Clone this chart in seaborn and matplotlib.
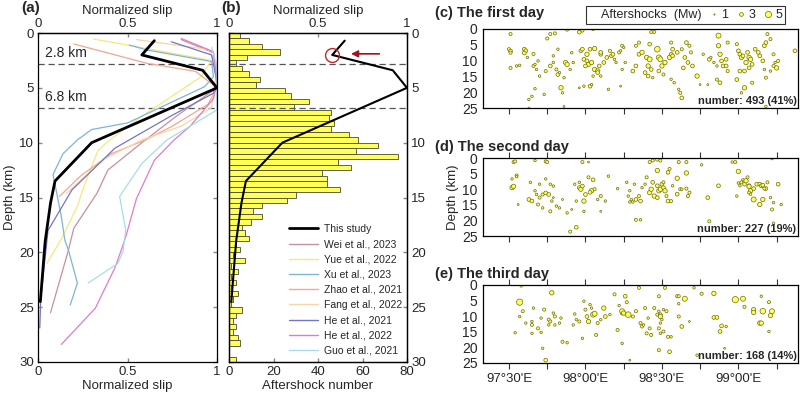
import numpy as np
import pandas as pd
import matplotlib
matplotlib.use("Agg")
import matplotlib.pyplot as plt
import seaborn as sns
from matplotlib.lines import Line2D

sns.set_theme(style="ticks", context="paper",
              rc={"axes.labelsize": 9.5, "xtick.labelsize": 9.5, "ytick.labelsize": 9.5,
                  "axes.linewidth": 0.9, "axes.edgecolor": "black"})
plt.rcParams["font.family"] = ["Liberation Sans", "DejaVu Sans"]
plt.rcParams["font.size"] = 9.5

# ---- panel (a): normalized slip profiles (slip, depth km)
this_slip = [0.65, 0.58, 0.92, 1.0, 0.30, 0.095, 0.07, 0.04, 0.013]
this_depth = [0.7, 2.0, 3.4, 5.0, 10.0, 13.5, 15.5, 19.0, 24.5]

wei_slip = [0.80, 0.98, 1.0, 0.78, 0.58, 0.39, 0.33, 0.20, 0.17, 0.07]
wei_depth = [0.6, 1.8, 5.0, 7.5, 10.0, 12.5, 14.6, 17.8, 19.8, 25.5]
yue_slip = [0.31, 0.50, 0.97, 0.91, 0.58, 0.40, 0.335, 0.25, 0.22, 0.13, 0.05]
yue_depth = [0.55, 1.1, 2.5, 4.0, 7.6, 9.75, 10.7, 14.3, 15.8, 18.8, 21.0]
xu_slip = [0.51, 0.61, 0.97, 0.98, 0.93, 0.50, 0.30, 0.22, 0.14, 0.084, 0.13, 0.15, 0.17, 0.22, 0.18]
xu_depth = [1.1, 1.55, 2.6, 4.0, 4.9, 8.2, 8.8, 9.75, 11.0, 12.9, 16.7, 18.9, 19.8, 22.8, 24.8]
zhao_slip = [0.20, 0.61, 0.88, 1.0, 0.95, 0.75, 0.60, 0.41, 0.24, 0.12]
zhao_depth = [1.0, 2.77, 3.5, 5.0, 6.5, 8.5, 9.75, 11.0, 13.0, 14.9]
fang_slip = [0.55, 0.95, 1.0, 0.97, 0.80, 0.58, 0.37, 0.16]
fang_depth = [0.6, 1.5, 3.0, 6.8, 8.5, 9.75, 11.5, 14.6]
he21_slip = [0.745, 0.97, 1.0, 0.98, 0.75, 0.51, 0.43, 0.19, 0.056, 0.015, 0.01]
he21_depth = [0.8, 2.0, 4.5, 5.5, 7.5, 9.75, 10.5, 14.3, 18.0, 24.3, 26.9]
he22_slip = [0.80, 0.98, 1.0, 0.98, 0.85, 0.76, 0.65, 0.55, 0.49, 0.465, 0.43, 0.32, 0.13]
he22_depth = [0.5, 1.7, 4.5, 6.0, 8.5, 9.75, 11.6, 15.1, 18.6, 19.8, 21.4, 25.1, 28.4]
guo_slip = [0.97, 1.0, 1.0, 1.0, 0.85, 0.72, 0.58, 0.456, 0.49, 0.475, 0.447, 0.28]
guo_depth = [1.3, 3.0, 5.0, 7.0, 8.5, 9.75, 11.9, 14.9, 18.0, 19.9, 21.0, 22.8]

ref_labels = ["Wei et al., 2023", "Yue et al., 2022", "Xu et al., 2023", "Zhao et al., 2021",
              "Fang et al., 2022", "He et al., 2021", "He et al., 2022", "Guo et al., 2021"]
ref_colors = ["#c98f9a", "#f3ea7c", "#80b3d6", "#f0a88e", "#f6d6a6", "#7474c6", "#e07cc8", "#a8dcea"]
ref_slips = [wei_slip, yue_slip, xu_slip, zhao_slip, fang_slip, he21_slip, he22_slip, guo_slip]
ref_depths = [wei_depth, yue_depth, xu_depth, zhao_depth, fang_depth, he21_depth, he22_depth, guo_depth]

# ---- panel (b): aftershock counts per 0.5 km depth bin (0-30 km)
bin_edges = [i * 0.5 for i in range(61)]
bin_counts = [5, 9, 15, 23, 8, 3, 6, 9, 14, 12,
              25, 28, 36, 29, 46, 45, 47, 46, 54, 58,
              67, 57, 76, 49, 55, 42, 44, 44, 50, 30,
              26, 15, 11, 15, 10, 6, 7, 9, 3, 5,
              2, 7, 1, 4, 1, 3, 1, 4, 2, 1,
              6, 3, 2, 3, 2, 4, 5, 0, 0, 3]

# ---- panels (c)-(e): aftershocks (lon, depth, Mw)
day1_lon = [97.51, 97.50, 97.51, 97.51, 97.51, 97.55, 97.57, 97.60, 97.61, 97.60, 97.62, 97.63, 97.65, 97.63,
            97.66, 97.67, 97.68, 97.69, 97.66, 97.70, 97.67, 97.73, 97.75, 97.77, 97.80, 97.77, 97.79, 97.81,
            97.82, 97.74, 97.83, 97.79, 97.82, 97.84, 97.85, 97.86, 97.87, 97.88, 97.90, 97.88, 97.91, 97.92,
            97.86, 97.96, 97.98, 98.05, 97.97, 97.98, 98.01, 97.99, 98.02, 98.04, 98.03, 98.06, 98.01, 98.00,
            98.03, 97.96, 97.99, 98.06, 98.08, 98.09, 98.10, 98.10, 98.14, 98.12, 98.05, 98.08, 98.04, 98.10,
            98.16, 98.17, 98.18, 98.22, 98.23, 98.24, 98.20, 98.24, 98.26, 98.25, 98.19, 98.15, 98.23, 98.31,
            98.33, 98.35, 98.37, 98.40, 98.42, 98.41, 98.43, 98.42, 98.43, 98.45, 98.35, 98.33, 98.41, 98.44,
            98.39, 98.47, 98.48, 98.49, 98.50, 98.52, 98.55, 98.56, 98.57, 98.60, 98.56, 98.57, 98.48, 98.51,
            98.56, 98.58, 98.62, 98.63, 98.61, 98.63, 98.66, 98.68, 98.69, 98.65, 98.67, 98.70, 98.64, 98.73,
            98.77, 98.80, 98.75, 98.81, 98.82, 98.84, 98.86, 98.87, 98.87, 98.88, 98.89, 98.90, 98.86, 98.88,
            98.93, 98.92, 98.93, 98.92, 98.99, 99.00, 99.01, 99.02, 99.03, 99.05, 99.06, 99.07, 99.08, 99.09,
            99.01, 99.04, 99.07, 99.02, 99.04, 98.99, 99.09, 99.11, 99.13, 99.14, 99.16, 99.17, 99.18, 99.19,
            99.21, 99.23, 99.25, 99.26, 99.23, 99.17, 99.18, 99.21, 99.24, 99.18, 99.37]
day1_dep = [1.6, 6.4, 7.0, 7.5, 12.3, 11.7, 11.5, 6.4, 6.9, 7.6, 9.0, 22.3, 21.3, 25.0,
            11.7, 11.2, 12.8, 10.1, 7.9, 14.9, 18.9, 20.7, 3.0, 1.6, 1.4, 11.7, 10.6, 12.8,
            14.4, 13.3, 13.8, 8.5, 6.4, 18.6, 20.2, 24.5, 10.6, 11.2, 12.8, 0.2, 7.5, 10.6,
            15.4, 1.0, 0.5, 0.0, 6.9, 6.4, 8.0, 9.6, 11.2, 10.6, 6.4, 6.2, 10.1, 11.7,
            18.1, 18.6, 18.1, 12.8, 13.3, 11.7, 8.0, 7.4, 9.0, 10.6, 14.9, 13.8, 17.6, 14.9,
            6.9, 8.5, 8.0, 7.4, 6.9, 5.3, 10.6, 12.8, 10.6, 5.8, 9.6, 19.1, 18.1, 13.3,
            11.7, 8.0, 7.4, 9.0, 9.6, 11.7, 12.8, 4.8, 1.0, 0.9, 4.3, 5.3, 14.9, 15.4,
            13.8, 6.4, 9.0, 9.6, 11.7, 10.6, 9.0, 8.0, 8.5, 7.4, 4.3, 6.4, 13.3, 14.4,
            15.9, 17.0, 20.2, 21.8, 19.1, 6.4, 4.3, 5.3, 7.4, 9.0, 10.6, 11.7, 12.3, 14.9,
            8.0, 17.6, 17.6, 9.6, 9.0, 10.6, 11.7, 2.1, 5.3, 8.0, 10.1, 11.7, 16.0, 17.0,
            13.3, 11.7, 4.3, 9.6, 4.8, 6.9, 8.0, 9.0, 8.5, 10.6, 7.4, 9.0, 9.6, 11.2,
            13.3, 13.3, 12.3, 20.2, 18.6, 16.0, 17.0, 6.4, 7.4, 8.5, 10.1, 5.3, 4.3, 1.6,
            3.2, 8.0, 12.3, 10.1, 11.7, 12.8, 15.4, 13.3, 10.6, 24.5, 6.9]
day1_mw = [2.5, 2.5, 3, 2.5, 2.5, 2, 2, 3, 3, 3, 2, 2, 2, 1.5,
           2.5, 2, 2, 2, 2.5, 2, 2, 2, 2.5, 2.5, 2.5, 3, 2, 2.5,
           3, 2.5, 2, 2, 2, 3.5, 2, 1.5, 3.5, 3.5, 2, 2.5, 2, 2,
           2, 3, 2.5, 2.5, 3, 3, 3.5, 3, 3.5, 3.5, 3, 3.5, 3, 3,
           3, 1.5, 2, 3.5, 3.5, 3, 3, 3, 3, 3, 2, 3, 2, 2,
           2.5, 3, 3, 2.5, 2, 2.5, 2, 2, 2, 2, 2, 2, 1.5, 3,
           3, 3, 3.5, 3.5, 4, 3.5, 3, 3, 2.5, 2.5, 2.5, 2.5, 3, 2,
           3, 4.5, 4, 4, 3.5, 3.5, 3.5, 3, 3, 3, 2.5, 3, 3, 2.5,
           2, 2, 2.5, 3, 2, 2.5, 3, 2.5, 2.5, 3, 3, 3, 3, 3.5,
           2, 1.5, 1.5, 3, 2, 2, 2, 4, 3.5, 3.5, 3, 3, 2.5, 3,
           2.5, 3, 2.5, 3, 2.5, 3, 3, 3.5, 3, 3.5, 3, 3.5, 3.5, 3,
           3, 3, 3, 2, 3.5, 3, 2.5, 3, 3, 3, 3, 3, 3, 2.5,
           2.5, 2.5, 3.5, 2.5, 2.5, 2, 2.5, 2, 2, 2, 3]

day2_lon = [97.53, 97.54, 97.52, 97.52, 97.53, 97.55, 97.55, 97.56, 97.64, 97.67, 97.67, 97.68, 97.63, 97.65,
            97.70, 97.74, 97.74, 97.75, 97.72, 97.74, 97.76, 97.77, 97.79, 97.78, 97.70, 97.69, 97.72, 97.77,
            97.81, 97.83, 97.79, 97.85, 97.88, 97.91, 97.90, 97.94, 97.93, 97.96, 97.98, 98.02, 97.96, 97.97,
            97.98, 97.99, 98.00, 97.94, 98.02, 97.99, 98.04, 98.03, 98.05, 98.06, 98.08, 98.10, 98.13, 98.10,
            98.15, 98.21, 98.27, 98.29, 98.32, 98.28, 98.30, 98.31, 98.33, 98.36, 98.35, 98.29, 98.33, 98.36,
            98.37, 98.39, 98.40, 98.42, 98.44, 98.47, 98.49, 98.42, 98.43, 98.44, 98.47, 98.48, 98.49, 98.45,
            98.47, 98.47, 98.50, 98.51, 98.52, 98.51, 98.54, 98.55, 98.53, 98.54, 98.56, 98.60, 98.60, 98.61,
            98.57, 98.62, 98.63, 98.66, 98.68, 98.67, 98.66, 98.66, 98.76, 98.80, 98.81, 98.87, 98.96, 98.98,
            99.00, 98.99, 99.00, 99.01, 99.02, 99.03, 99.04, 99.05, 99.06, 99.07, 99.08, 99.10, 99.10, 99.07,
            99.07, 99.12, 99.14, 99.15, 99.16, 99.18, 99.16, 99.14, 99.17, 99.21, 99.22, 99.23, 99.22, 99.26,
            99.28, 99.23, 99.08, 99.19]
day2_dep = [1.3, 1.1, 6.7, 9.5, 9.1, 5.6, 6.0, 14.9, 7.8, 0.8, 10.5, 11.7, 13.3, 13.8,
            8.4, 6.7, 1.1, 1.3, 11.7, 11.2, 11.7, 8.4, 9.0, 13.8, 12.7, 14.9, 16.0, 17.1,
            15.4, 16.0, 12.7, 13.3, 17.6, 16.5, 23.6, 22.2, 8.4, 7.8, 1.3, 1.3, 9.5, 10.0,
            9.0, 13.8, 11.7, 13.8, 6.2, 17.1, 10.5, 11.0, 7.0, 10.0, 13.3, 12.2, 13.8, 17.1,
            5.8, 9.8, 7.8, 10.5, 8.4, 12.2, 13.3, 14.1, 13.3, 13.8, 12.2, 14.1, 19.8, 19.8,
            9.5, 8.4, 6.2, 1.3, 0.8, 0.4, 0.8, 11.1, 10.0, 7.8, 8.9, 10.5, 10.0, 12.2,
            12.7, 4.0, 8.4, 9.5, 10.5, 7.8, 4.6, 3.5, 12.2, 13.8, 13.8, 11.6, 6.5, 1.3,
            8.9, 10.0, 10.0, 9.8, 11.1, 12.2, 4.8, 1.3, 2.2, 12.7, 20.3, 8.9, 1.3, 1.3,
            4.3, 12.2, 8.0, 8.9, 7.8, 7.0, 8.4, 7.3, 6.2, 8.9, 10.5, 9.8, 13.3, 9.1,
            11.1, 8.4, 8.4, 8.9, 8.7, 9.8, 13.3, 14.9, 9.8, 12.7, 16.5, 14.3, 0.2, 8.4,
            14.9, 20.9, 11.6, 7.8]
day2_mw = [2.5, 2.5, 2, 3.5, 3.5, 2.5, 2, 1.5, 2, 2, 2, 2, 3, 3,
           2, 2, 2.5, 2.5, 2.5, 3, 3, 2, 2, 2, 2.5, 2.5, 2, 2.5,
           2, 2, 1.5, 1.5, 2, 1.5, 2.5, 3, 2, 2, 2.5, 1.5, 3, 3.5,
           3, 3.5, 3, 2, 2.5, 2, 3.5, 3, 3, 2.5, 2, 2.5, 2, 1.5,
           2, 2, 2, 2, 2, 2, 2, 2, 3, 3, 2.5, 2, 2.5, 2,
           2, 2, 2.5, 2.5, 2.5, 3, 2.5, 3.5, 3.5, 3, 3, 3.5, 3.5, 3.5,
           3, 3.5, 3, 3, 3.5, 2.5, 3, 2.5, 2.5, 3, 2.5, 3, 3.5, 2.5,
           2, 2.5, 2, 2.5, 2.5, 2.5, 3.5, 2.5, 2, 3, 2.5, 3, 2, 2.5,
           3.5, 2, 2, 2, 2.5, 2, 3, 3.5, 2.5, 3, 3.5, 3, 4, 3.5,
           2.5, 3, 3, 3, 3, 3, 3.5, 3.5, 2.5, 2, 2.5, 2, 2, 3,
           2, 2, 2, 2.5]

day3_lon = [97.57, 97.58, 97.57, 97.59, 97.54, 97.61, 97.65, 97.65, 97.66, 97.65, 97.69, 97.71, 97.71, 97.72,
            97.74, 97.73, 97.76, 97.77, 97.76, 97.78, 97.79, 97.80, 97.80, 97.83, 97.84, 97.85, 97.88, 97.92,
            97.93, 97.94, 97.96, 97.98, 97.99, 98.00, 98.01, 98.02, 98.03, 98.04, 98.05, 98.06, 98.08, 98.07,
            98.10, 98.12, 98.13, 98.16, 98.19, 98.21, 98.22, 98.24, 98.24, 98.24, 98.25, 98.26, 98.27, 98.28,
            98.29, 98.31, 98.33, 98.35, 98.36, 98.37, 98.38, 98.39, 98.40, 98.41, 98.42, 98.43, 98.45, 98.47,
            98.48, 98.48, 98.49, 98.49, 98.49, 98.50, 98.48, 98.48, 98.49, 98.51, 98.51, 98.52, 98.53, 98.54,
            98.55, 98.56, 98.60, 98.61, 98.61, 98.61, 98.63, 98.65, 98.68, 98.71, 98.76, 98.84, 98.84, 98.86,
            98.89, 98.88, 98.92, 98.91, 98.98, 99.03, 99.04, 99.10, 99.10, 99.14, 99.15, 99.15, 99.16, 99.20,
            99.21, 99.22, 99.20, 98.73]
day3_dep = [5.5, 0.3, 10.1, 8.4, 15.3, 12.2, 12.8, 11.7, 7.4, 15.5, 13.9, 10.6, 15.2, 20.3,
            24.1, 7.9, 11.1, 11.7, 12.8, 2.5, 9.0, 10.1, 12.8, 12.2, 10.6, 18.2, 18.5, 12.8,
            9.3, 11.1, 11.7, 17.1, 5.2, 7.9, 10.1, 11.7, 6.3, 7.4, 9.5, 9.2, 12.2, 16.0,
            11.1, 7.4, 10.1, 9.5, 3.0, 14.4, 6.6, 18.7, 9.0, 8.4, 9.0, 3.6, 5.5, 9.5,
            24.1, 10.1, 8.4, 0.9, 12.2, 13.3, 12.8, 7.4, 15.5, 10.6, 13.9, 16.0, 7.4, 9.5,
            3.6, 8.4, 9.5, 10.1, 12.2, 11.1, 13.9, 20.9, 15.5, 14.9, 7.9, 0.9, 8.4, 16.6,
            21.4, 16.6, 3.6, 3.6, 6.0, 10.1, 13.3, 4.4, 11.7, 0.9, 2.8, 2.7, 10.4, 10.4,
            13.1, 14.9, 13.3, 20.3, 4.7, 4.4, 7.0, 7.9, 8.8, 12.2, 12.2, 3.6, 8.4, 5.5,
            9.8, 8.4, 14.9, 22.5]
day3_mw = [5, 2, 2, 2.5, 2, 2, 2.5, 2, 2, 2, 2.5, 2, 2, 2,
           3, 2.5, 2.5, 2.5, 2, 3.5, 2, 2.5, 2, 2, 2, 2.5, 2, 2,
           2, 2, 2.5, 2, 2, 2.5, 3, 3.5, 2, 2, 4, 4, 2.5, 2.5,
           2, 3.5, 3, 2, 2.5, 2.5, 2, 2, 3, 4, 3.5, 3, 2.5, 4.5,
           1.5, 2.5, 2.5, 2.5, 2.5, 2.5, 2, 2.5, 2.5, 2, 2.5, 2.5, 2.5, 2.5,
           2.5, 2, 3, 3.5, 2, 2, 2.5, 2.5, 2, 2.5, 2, 2.5, 2.5, 2.5,
           3, 2, 2.5, 2.5, 2, 2.5, 3, 4, 1.5, 2, 2.5, 3.5, 3, 3,
           3, 3, 2, 1.5, 5, 4, 2.5, 3.5, 3.5, 3.5, 3.5, 2, 4.5, 2.5,
           3.5, 4, 2, 2]

lon_ticks = [97.5, 98.0, 98.5, 99.0]
lon_labels = ["97°30'E", "98°00'E", "98°30'E", "99°00'E"]

YELLOW = "#ffff5a"
EDGE = "#6e6e10"

fig = plt.figure(figsize=(8, 3.94), dpi=100)
W, H = 800, 394


def px_axes(x0, y0, x1, y1):
    return fig.add_axes([x0 / W, 1 - y1 / H, (x1 - x0) / W, (y1 - y0) / H])


def dashed_levels(ax):
    for d in (2.8, 6.8):
        ax.axhline(d, color="#555555", lw=0.9, dashes=(5, 3), zorder=1)


# ---------------- (a)
ax_a = px_axes(38, 33, 217, 362)
for lab, col, s, d in zip(ref_labels, ref_colors, ref_slips, ref_depths):
    sns.lineplot(x=s, y=d, sort=False, estimator=None, color=col, lw=0.9, ax=ax_a)
sns.lineplot(x=this_slip, y=this_depth, sort=False, estimator=None, color="black", lw=2, ax=ax_a)
dashed_levels(ax_a)
ax_a.text(0.04, 2.5, "2.8 km", fontsize=10, va="bottom")
ax_a.text(0.04, 6.5, "6.8 km", fontsize=10, va="bottom")
ax_a.set_xlim(0, 1)
ax_a.set_ylim(30, 0)
ax_a.set_xticks([0, 0.5, 1])
ax_a.set_xticklabels(["0", "0.5", "1"])
ax_a.set_yticks(range(0, 31, 5))
ax_a.tick_params(direction="in", top=True, right=True, length=3, color="#888888", pad=3)
ax_a.set_xlabel("Normalized slip", labelpad=1)
ax_a.set_ylabel("Depth (km)", labelpad=2)
sec_a = ax_a.secondary_xaxis("top")
sec_a.set_xticks([0, 0.5, 1])
sec_a.set_xticklabels(["0", "0.5", "1"])
sec_a.tick_params(direction="in", length=0, pad=2)
sec_a.set_xlabel("Normalized slip", labelpad=3)
fig.text(0.026, 0.997, "(a)", fontsize=11, fontweight="bold", va="top")

# ---------------- (b)
ax_b = px_axes(229, 33, 407, 362)
hist_df = pd.DataFrame({"depth": [e + 0.25 for e in bin_edges[:-1]], "count": bin_counts})
sns.histplot(data=hist_df, y="depth", weights="count", bins=bin_edges, color=YELLOW, alpha=1,
             edgecolor="#4a4a30", linewidth=0.6, ax=ax_b)
dashed_levels(ax_b)
ax_b.set_xlim(0, 80)
ax_b.set_ylim(30, 0)
ax_b.set_xticks([0, 20, 40, 60, 80])
ax_b.set_yticks(range(0, 31, 5))
ax_b.yaxis.tick_right()
ax_b.tick_params(direction="in", length=3, color="#888888", left=True, right=True, pad=3)
ax_b.set_xlabel("Aftershock number", labelpad=1)
ax_b.set_ylabel("")
ax_b2 = ax_b.twiny()
sns.lineplot(x=this_slip, y=this_depth, sort=False, estimator=None, color="black", lw=1.5, ax=ax_b2)
ax_b2.plot([this_slip[1]], [this_depth[1]], marker="o", ms=10, mfc="none", mec="#c0282d", mew=1)
ax_b2.annotate("", xy=(0.67, 1.9), xytext=(0.86, 1.9),
               arrowprops=dict(arrowstyle="-|>", color="#a0141e", lw=1.2, mutation_scale=10))
ax_b2.set_xlim(0, 1)
ax_b2.set_ylim(30, 0)
ax_b2.set_xticks([0, 0.5, 1])
ax_b2.set_xticklabels(["0", "0.5", "1"])
ax_b2.tick_params(direction="in", length=3, color="#888888", pad=2)
ax_b2.set_xlabel("Normalized slip", labelpad=3)
ax_b2.set_ylabel("")
handles = [Line2D([], [], color="black", lw=2)] + [Line2D([], [], color=c, lw=1) for c in ref_colors]
labels = ["This study"] + ref_labels
ax_b2.legend(handles, labels, loc="lower left", bbox_to_anchor=(0.3, 0.0), frameon=False,
             fontsize=7.5, labelspacing=0.5, handlelength=2.8, handletextpad=0.6, borderaxespad=0.2)
fig.text(0.276, 0.997, "(b)", fontsize=11, fontweight="bold", va="top")

# ---------------- (c)-(e)
day_axes = [px_axes(483, 29, 798, 108), px_axes(483, 158, 798, 236), px_axes(483, 285, 798, 363)]
day_data = [(day1_lon, day1_dep, day1_mw, "(c) The first day", "number: 493 (41%)"),
            (day2_lon, day2_dep, day2_mw, "(d) The second day", "number: 227 (19%)"),
            (day3_lon, day3_dep, day3_mw, "(e) The third day", "number: 168 (14%)")]
title_y = [6, 140, 267]
for i, (ax, (lon, dep, mw, title, note)) in enumerate(zip(day_axes, day_data)):
    df = pd.DataFrame({"lon": lon, "dep": dep, "mw": mw})
    size_map = {m: (0.9 * m) ** 2 for m in sorted(df["mw"].unique())}
    sns.scatterplot(data=df, x="lon", y="dep", size="mw", sizes=size_map, color=YELLOW,
                    edgecolor=EDGE, linewidth=0.5, legend=False, ax=ax)
    ax.set_xlim(97.33, 99.39)
    ax.set_ylim(25, 0)
    ax.set_yticks(range(0, 26, 5))
    ax.set_xticks(lon_ticks)
    ax.set_xticks([97.75, 98.25, 98.75, 99.25], minor=True)
    ax.tick_params(axis="x", which="both", direction="out", length=4, width=0.8, top=(i > 0),
                   labelbottom=(i == 2), color="#333333")
    ax.tick_params(axis="y", length=0, pad=4, labelsize=10)
    if i == 2:
        ax.set_xticklabels(lon_labels)
    ax.set_xlabel("")
    ax.set_ylabel("Depth (km)" if i == 1 else "", labelpad=2)
    ax.text(0.995, 0.03, note, transform=ax.transAxes, ha="right", va="bottom",
            fontsize=8, fontweight="bold")
    fig.text(435 / W, 1 - title_y[i] / H, title, fontsize=10.5, fontweight="bold", va="top")

mk = [Line2D([], [], ls="none")]
for m in (1, 3, 5):
    mk.append(Line2D([], [], ls="none", marker="o", ms=0.9 * m, mfc=YELLOW, mec=EDGE, mew=0.5))
leg = day_axes[0].legend(mk, ["Aftershocks  (Mw)", "1", "3", "5"], ncol=4, loc="lower right",
                         bbox_to_anchor=(0.959, 1.06), borderaxespad=0, fontsize=9,
                         handlelength=0.6, handletextpad=0.3, columnspacing=0.7,
                         borderpad=0.25, fancybox=False, edgecolor="#333333", framealpha=1)
leg.get_frame().set_linewidth(0.8)

fig.savefig("out.png", dpi=100)
